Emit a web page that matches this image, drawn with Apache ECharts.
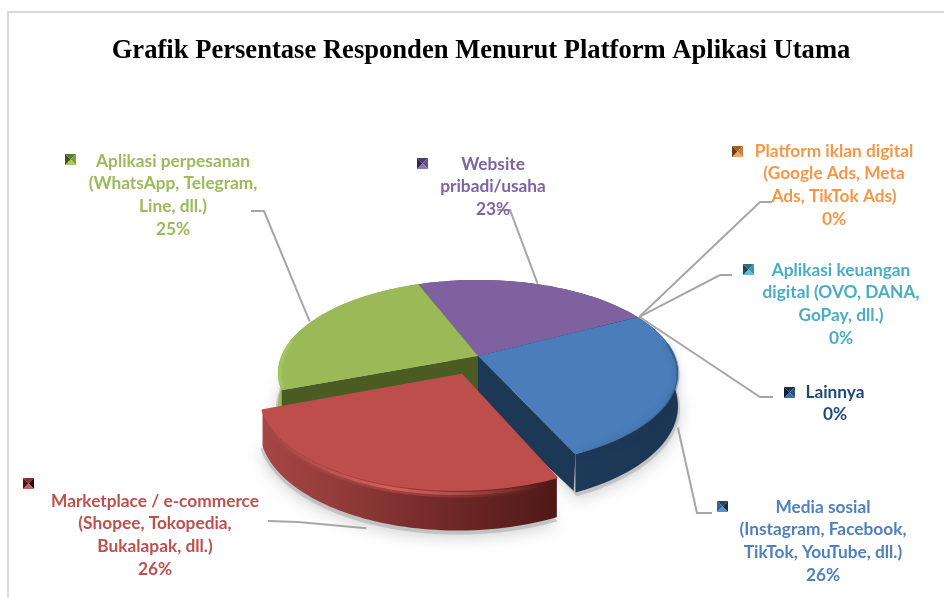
<!DOCTYPE html>
<html>
<head>
<meta charset="utf-8">
<style>html,body{margin:0;padding:0;background:#fff}#c{width:944px;height:598px}</style>
<script src="https://cdn.jsdelivr.net/npm/echarts@6/dist/echarts.min.js"></script>
</head>
<body>
<div id="c"></div>
<script>
const titleText = 'Grafik Persentase Responden Menurut Platform Aplikasi Utama';
const categories = [
  'Media sosial\n(Instagram, Facebook,\nTikTok, YouTube, dll.)',
  'Marketplace / e-commerce\n(Shopee, Tokopedia,\nBukalapak, dll.)',
  'Aplikasi perpesanan\n(WhatsApp, Telegram,\nLine, dll.)',
  'Website\npribadi/usaha',
  'Aplikasi keuangan\ndigital (OVO, DANA,\nGoPay, dll.)',
  'Platform iklan digital\n(Google Ads, Meta\nAds, TikTok Ads)',
  'Lainnya'
];
const values = [26, 26, 25, 23, 0, 0, 0];
const explodedIndex = 1;

// styles and layout kept apart from the data
const colors = ['#4F81BD','#C0504D','#9BBB59','#8064A2','#4BACC6','#F79646','#1F497D'];
const topFill = ['#4A7DBA','#BD4E4B','#9BBA57','#7F60A0'];
const keyShades = [
  ['#2a4566','#5b90cf','#3a6496','#1b2f49'],
  ['#8a3331','#d0605c','#4a1513','#1d0807'],
  ['#5d7a2c','#a7c765','#3f5220','#7d9b45'],
  ['#4d3a6b','#8f72b3','#35264d','#6a4f8c'],
  ['#2a6f83','#5bbcd6','#1a4a58','#3d93ab'],
  ['#a85f22','#f7a45c','#6e3c12','#d07e35'],
  ['#16304f','#3d6ba3','#0d1f36','#2a5180']
];
// label: centre x, first line centre y; key: left, top; leader: elbow, end
const layout = [
  {lx:823, ly:507, kx:717, ky:501, elbow:[697,513], end:[712,513]},
  {lx:155, ly:501, kx:23,  ky:478, elbow:[298,522], end:[268,521]},
  {lx:173, ly:161, kx:65,  ky:154, elbow:[264,211], end:[251,211]},
  {lx:493, ly:164, kx:417, ky:158, elbow:[510,210], end:[497,210]},
  {lx:841, ly:270, kx:743, ky:264, elbow:[720,275], end:[732,275]},
  {lx:834, ly:151, kx:732, ky:146, elbow:[760,202], end:[772,202]},
  {lx:835, ly:392, kx:784, ky:387, elbow:[760,397], end:[773,397]}
];

const CX = 478, CY = 356, RX = 196.6, RY = 89.9, K = 0.1828, DEPTH = 32;
const START_DEG = -28;
const EXPLODE = [-0.08, 0.2];
const EXPLODED_RADIUS = 0.97;
const LINE_H = 22.7;

const total = values.reduce((a, b) => a + b, 0);
const angles = [];
let acc = START_DEG;
values.forEach(v => { const a0 = acc; acc += v / total * 360; angles.push([a0, acc]); });

function project(u, v, drop) {
  const w = 1 - K * v;
  return [CX + RX * u / w, CY + RY * v / w + (drop || 0) / w];
}
function disc(i, deg, r, drop) {
  const t = deg * Math.PI / 180;
  const ex = i === explodedIndex;
  const off = ex ? EXPLODE : [0, 0];
  const rr = ex ? r * EXPLODED_RADIUS : r;
  return project(rr * Math.cos(t) + off[0], rr * Math.sin(t) + off[1], drop);
}
function arc(i, a0, a1, r, drop) {
  const pts = [];
  const n = Math.max(2, Math.ceil(Math.abs(a1 - a0) / 1.5));
  for (let k = 0; k <= n; k++) pts.push(disc(i, a0 + (a1 - a0) * k / n, r, drop));
  return pts;
}
const poly = (points, fill, z2, extra) => ({
  type: 'polygon', shape: {points}, z2, silent: true,
  style: Object.assign({fill, stroke: 'none'}, extra || {})
});
const line = (points, stroke, width, z2, extra) => ({
  type: 'polyline', shape: {points}, z2, silent: true,
  style: Object.assign({stroke, lineWidth: width, fill: 'none', lineCap: 'round'}, extra || {})
});
const linGrad = (x0, y0, x1, y1, stops) => new echarts.graphic.LinearGradient(x0, y0, x1, y1, stops);
const fade = (rgb, a) => linGrad(0, 0, 1, 0, [
  {offset: 0, color: `rgba(${rgb},0)`},
  {offset: 0.45, color: `rgba(${rgb},${a})`},
  {offset: 1, color: `rgba(${rgb},0)`}
]);

const wallStyles = [
  {grad: [[0,'#1d3a5b'],[1,'#1c3653']], radial: '#1D3856'},
  {grad: [[0,'#a64644'],[0.25,'#933c3a'],[0.55,'#772c2a'],[1,'#4f1918']], radial: '#5a1d1c'},
  {grad: [[0,'#9cbc59'],[1,'#7f9c46']], radial: '#4A5C22'},
  {grad: [[0,'#5e4578'],[1,'#5e4578']], radial: '#5e4578'}
];
const layerBase = [30, 50, 20, 10];

function sliceShapes(i) {
  const [a0, a1] = angles[i];
  const base = layerBase[i], out = [];
  const wall = wallStyles[i];
  const top = arc(i, a0, a1, 1, 0);
  const bot = arc(i, a0, a1, 1, DEPTH);
  const apexT = disc(i, 0, 0, 0), apexB = disc(i, 0, 0, DEPTH + 14);
  // floor shadow
  out.push(poly([disc(i, 0, 0, DEPTH)].concat(arc(i, a0, a1, 1.01, DEPTH + 2)), 'rgba(170,170,170,0.55)', 1,
    {shadowBlur: 16, shadowColor: 'rgba(120,120,120,0.6)', shadowOffsetY: 3}));
  // radial walls (the exposed one reaches under the neighbouring pulled-out slice)
  out.push(poly([apexT, disc(i, a0, 1, 0), disc(i, a0, 1, DEPTH), apexB], wall.radial, base));
  out.push(poly([apexT, disc(i, a1, 1, 0), disc(i, a1, 0.985, DEPTH), apexB], wall.radial, base));
  // outer wall
  out.push(poly(top.concat(bot.slice().reverse()),
    linGrad(0, 0, 1, 0, wall.grad.map(s => ({offset: s[0], color: s[1]}))), base + 1));
  // top surface
  const roundEdge = i === explodedIndex ? {stroke: topFill[i], lineWidth: 2, lineJoin: 'round'} : {};
  out.push(poly([apexT].concat(top), topFill[i], base + 2, roundEdge));
  // soft bevel on the rim of the surface
  if (i === 0) {
    const s = Math.max(a0, -8);
    out.push(line(arc(i, s, a1 - 2, 1, 1), 'rgba(29,56,90,0.35)', 3, base + 3, {shadowBlur: 7, shadowColor: 'rgba(29,56,90,0.8)'}));
  } else if (i === explodedIndex) {
    const rim = arc(i, a0 + 4, a1 - 8, 1, 3);
    out.push(line(rim, fade('205,85,80', 0.45), 8, base + 3));
    out.push(line(rim, fade('232,112,106', 0.7), 3, base + 4));
  } else if (i === 2) {
    out.push(line(arc(i, a0 + 2, a0 + 30, 0.99, 0), 'rgba(172,205,105,0.5)', 3, base + 3, {shadowBlur: 4, shadowColor: 'rgba(172,205,105,0.6)'}));
  }
  return out;
}

function keyShapes(i) {
  const {kx: x, ky: y} = layout[i], s = 11, sh = keyShades[i];
  const c = [x + s / 2, y + s / 2];
  const tl = [x, y], tr = [x + s, y], br = [x + s, y + s], bl = [x, y + s];
  return [
    poly([tl, tr, c], sh[0], 60), poly([tr, br, c], sh[3], 60),
    poly([br, bl, c], sh[1], 60), poly([bl, tl, c], sh[2], 60)
  ];
}

function leaderStart(i) {
  const [a0, a1] = angles[i];
  const mid = (a0 + a1) / 2;
  const onFront = values[i] > 0 && Math.sin(mid * Math.PI / 180) > 0;
  return disc(i, mid, 1.01, onFront ? DEPTH + 6 : 0);
}

function renderItem(params) {
  const i = params.dataIndex;
  const L = layout[i];
  const children = [];
  if (values[i] > 0) children.push(...sliceShapes(i));
  children.push(line([leaderStart(i), L.elbow, L.end], '#A6A6A6', 2, 55, {lineCap: 'butt'}));
  children.push(...keyShapes(i));
  const lines = categories[i].split('\n').concat(values[i] + '%');
  lines.forEach((t, k) => children.push({
    type: 'text', z2: 70, silent: true,
    style: {
      text: t, x: L.lx, y: L.ly + k * LINE_H, align: 'center', verticalAlign: 'middle',
      fill: colors[i], font: 'bold 17.3px Lato, "Noto Sans", sans-serif'
    }
  }));
  return {type: 'group', children};
}

const chart = echarts.init(document.getElementById('c'), null, {renderer: 'canvas'});
chart.setOption({
  animation: false,
  backgroundColor: '#fff',
  title: {
    text: titleText, left: 476, top: 33, textAlign: 'center',
    textStyle: {fontFamily: '"Liberation Serif", serif', fontWeight: 'bold', fontSize: 26.6, color: '#000'}
  },
  graphic: [{
    type: 'polyline', silent: true, z: -1,
    shape: {points: [[8, 598], [8, 12], [944, 12]]},
    style: {stroke: '#D9D9D9', lineWidth: 2, fill: 'none'}
  }],
  series: [{
    type: 'custom', coordinateSystem: 'none', renderItem, clip: false,
    data: values.map((v, i) => ({value: v, name: categories[i]}))
  }]
});
</script>
</body>
</html>
